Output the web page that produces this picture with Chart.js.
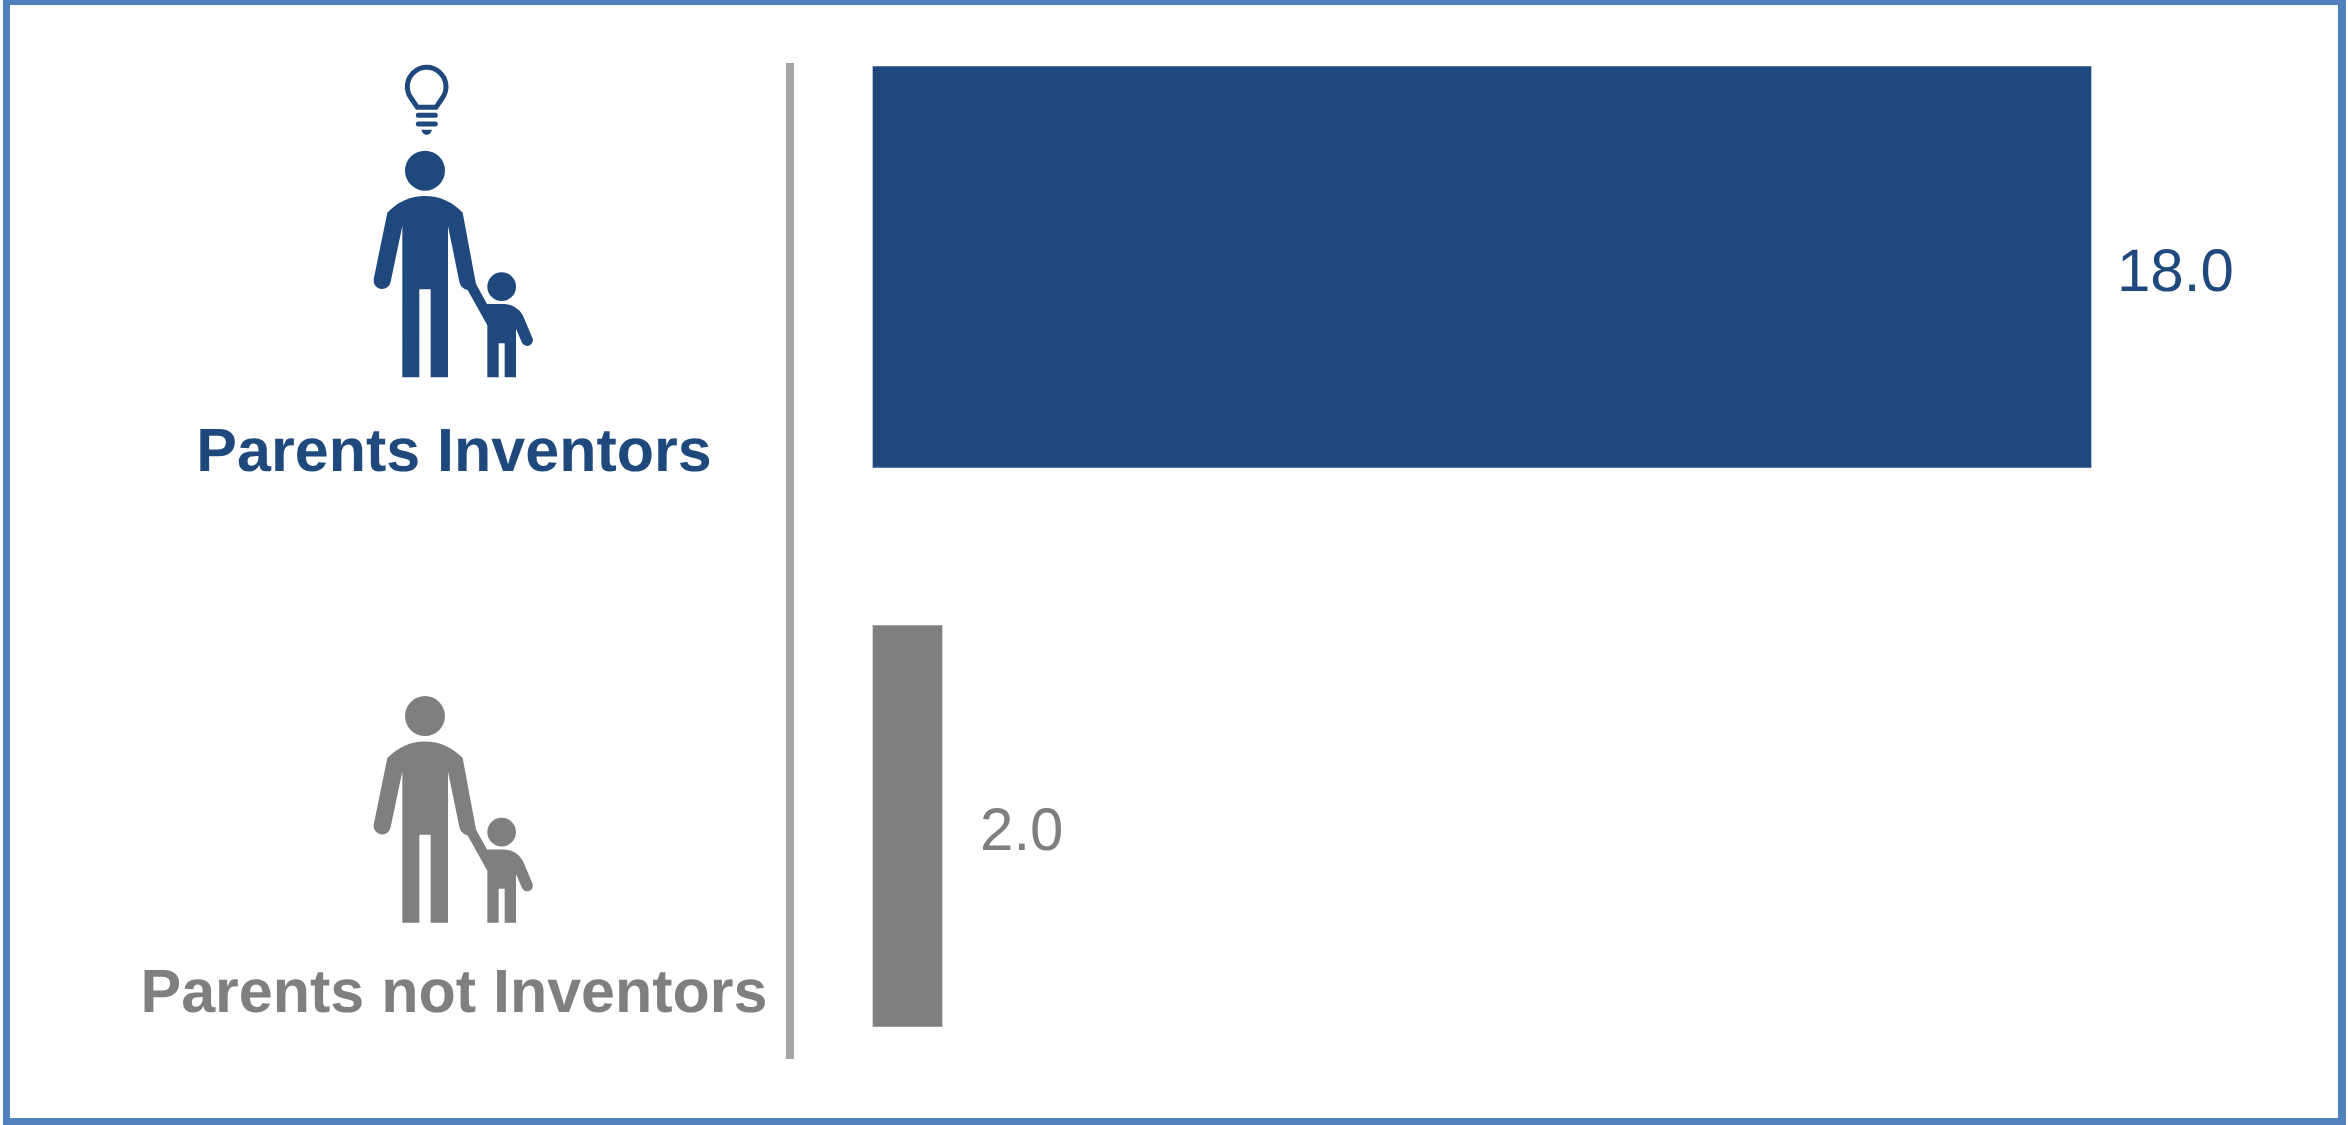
<!DOCTYPE html><html>
<head>
<meta charset="UTF-8">
<title>Parents Inventors</title>
<script src="https://cdn.jsdelivr.net/npm/chart.js@4"></script>
<style>
 html,body{margin:0;padding:0;background:#fff;overflow:hidden}
 canvas{display:block}
</style>
</head>
<body>
<canvas id="canvas_inventors" width="2348" height="1125"></canvas>
<script>
var categories = ['Parents Inventors', 'Parents not Inventors'];
var values = [18.0, 2.0];
var barColors = ['#1f497d', '#7f7f7f'];
var labelGaps = [26, 38];
var showBulb = [true, false];

// the value axis starts just above 1, not at zero
var axisStart = 1.039;

// figure outlines, in a 3x drawing space
var adultAndChild = new Path2D(
 'M142,518 Q190,468 255,468 Q320,468 368,518 L408,732 L441,792 L495,792 Q530,795 548,825 ' +
 'L577,893 A17,17 0 0 1 546,908 L528,866 L528,1012 L494,1012 L494,910 L476,910 L476,1012 ' +
 'L442,1012 L442,856 L383,750 Q362,745 358,725 L324,558 L324,1012 L272,1012 L272,748 ' +
 'L238,748 L238,1012 L187,1012 L187,558 L152,725 A25,25 0 0 1 101,718 Z ' +
 'M315,392 A60,60 0 1 1 195,392 A60,60 0 1 1 315,392 Z ' +
 'M528,740 A43,43 0 1 1 442,740 A43,43 0 1 1 528,740 Z');
var bulbGlass = new Path2D('M232,202 L213,174 A58,58 0 1 1 307,174 L288,202 Z');
var bulbThread = new Path2D('M235,226 L286,226 M235,252 L286,252');
var bulbTip = new Path2D('M244,269 L276,269 Q272,284 260,284 Q248,284 244,269 Z');

var iconTops = [40, 585.4];
var captionBaselines = [470.5, 1012];

function drawIcon(ctx, i){
 ctx.save();
 ctx.translate(340, iconTops[i]);
 ctx.scale(1/3, 1/3);
 ctx.fillStyle = barColors[i];
 ctx.fill(adultAndChild);
 if(showBulb[i]){
  ctx.strokeStyle = barColors[i];
  ctx.lineWidth = 15;
  ctx.stroke(bulbGlass);
  ctx.lineCap = 'round';
  ctx.stroke(bulbThread);
  ctx.fill(bulbTip);
 }
 ctx.restore();
}

var decorations = {
 id: 'decorations',
 beforeDraw: function(chart){
  var ctx = chart.ctx;
  ctx.save();
  // outer frame
  ctx.fillStyle = '#4f81bd';
  ctx.fillRect(3, 0, 2343, 5);
  ctx.fillRect(3, 1118, 2343, 7);
  ctx.fillRect(3, 0, 7, 1125);
  ctx.fillRect(2338, 0, 8, 1125);
  // divider between captions and bars
  ctx.fillStyle = '#a6a6a6';
  ctx.fillRect(786, 63, 8, 996);
  ctx.restore();
 },
 afterDatasetsDraw: function(chart){
  var ctx = chart.ctx;
  var bars = chart.getDatasetMeta(0).data;
  ctx.save();
  ctx.textBaseline = 'alphabetic';
  ctx.textRendering = 'geometricPrecision';
  categories.forEach(function(name, i){
   drawIcon(ctx, i);
   ctx.fillStyle = barColors[i];
   ctx.textAlign = 'center';
   ctx.font = 'bold 61px "Liberation Sans"';
   ctx.fillText(name, 454, captionBaselines[i]);
   ctx.textAlign = 'left';
   ctx.font = '60px "Liberation Sans"';
   ctx.fillText(values[i].toFixed(1), bars[i].x + labelGaps[i], bars[i].y + 24);
  });
  ctx.restore();
 }
};

var the_chart = new Chart(document.getElementById('canvas_inventors'), {
 type: 'bar',
 data: {
  labels: categories,
  datasets: [{
   data: values,
   base: axisStart,
   backgroundColor: barColors,
   borderWidth: 0,
   barThickness: 401,
   clip: false
  }]
 },
 options: {
  indexAxis: 'y',
  responsive: false,
  animation: false,
  layout: {padding: {left: 873, right: 257, top: 267, bottom: 299}},
  plugins: {legend: {display: false}, title: {display: false}, tooltip: {enabled: false}},
  scales: {
   x: {display: false, min: axisStart, max: 18},
   y: {display: false, offset: false}
  }
 },
 plugins: [decorations]
});
</script>
</body>
</html>
